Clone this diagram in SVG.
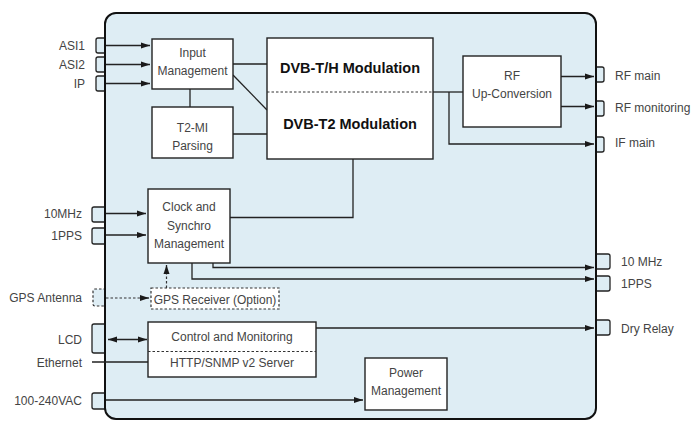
<svg xmlns="http://www.w3.org/2000/svg" width="695" height="421" viewBox="0 0 695 421">
<defs>
<marker id="ah" markerUnits="userSpaceOnUse" markerWidth="10" markerHeight="8" refX="9" refY="3.5" orient="auto-start-reverse"><path d="M0,0.5 L9,3.5 L0,6.5 z" fill="#1a1a1a"/></marker>
</defs>
<style>
text{font-family:"Liberation Sans",Arial,sans-serif;font-size:12px;fill:#444}
.b{font-weight:bold;font-size:14.5px;fill:#111}
.m{text-anchor:middle}
.e{text-anchor:end}
.box{fill:#fff;stroke:#222;stroke-width:1.4}
.dbox{fill:#fff;stroke:#333;stroke-width:1.2;stroke-dasharray:2.5 2}
.port{fill:#deedf4;stroke:#222;stroke-width:1.3}
.dport{fill:#deedf4;stroke:#333;stroke-width:1.2;stroke-dasharray:2.5 2}
.ln{fill:none;stroke:#222;stroke-width:1.3}
.ar{fill:none;stroke:#222;stroke-width:1.3;marker-end:url(#ah)}
.dash{fill:none;stroke:#333;stroke-width:1.2;stroke-dasharray:2.5 2}
.div{stroke:#333;stroke-width:1;stroke-dasharray:2.5 2}
</style>
<rect width="695" height="421" fill="#fff"/>
<!-- ports -->
<g id="ports">
<path class="port" d="M106,38 H98 q-2,0 -2,2 V51 q0,2 2,2 H106"/>
<path class="port" d="M106,57 H98 q-2,0 -2,2 V70 q0,2 2,2 H106"/>
<path class="port" d="M106,76 H98 q-2,0 -2,2 V89 q0,2 2,2 H106"/>
<path class="port" d="M106,207 H94 q-2,0 -2,2 V220 q0,2 2,2 H106"/>
<path class="port" d="M106,228 H94 q-2,0 -2,2 V242 q0,2 2,2 H106"/>
<path class="dport" d="M106,289 H95 q-2,0 -2,2 V304 q0,2 2,2 H106"/>
<path class="port" d="M106,324 H94 q-2,0 -2,2 V351 q0,2 2,2 H106"/>
<path class="port" d="M106,393 H94 q-2,0 -2,2 V407 q0,2 2,2 H106"/>
<path class="port" d="M595,67 H602 q2,0 2,2 V80 q0,2 -2,2 H595"/>
<path class="port" d="M595,101 H602 q2,0 2,2 V114 q0,2 -2,2 H595"/>
<path class="port" d="M595,137 H602 q2,0 2,2 V150 q0,2 -2,2 H595"/>
<path class="port" d="M595,254 H608 q2,0 2,2 V267 q0,2 -2,2 H595"/>
<path class="port" d="M595,276 H608 q2,0 2,2 V289 q0,2 -2,2 H595"/>
<path class="port" d="M595,320 H608 q2,0 2,2 V333 q0,2 -2,2 H595"/>
</g>
<rect id="chassis" x="105" y="13" width="491" height="406" rx="11" fill="#deedf4" stroke="#111" stroke-width="2"/>
<!-- labels -->
<g id="labels">
<text class="e" x="85" y="49.5">ASI1</text>
<text class="e" x="85" y="68.5">ASI2</text>
<text class="e" x="85" y="87.5">IP</text>
<text class="e" x="82" y="217.5">10MHz</text>
<text class="e" x="82" y="239.5">1PPS</text>
<text class="e" x="82" y="302">GPS Antenna</text>
<text class="e" x="82" y="343.5">LCD</text>
<text class="e" x="82" y="366.5">Ethernet</text>
<text class="e" x="82" y="404.5">100-240VAC</text>
<text x="615" y="79.5">RF main</text>
<text x="615" y="112">RF monitoring</text>
<text x="615" y="146.5">IF main</text>
<text x="621" y="265.5">10 MHz</text>
<text x="621" y="287.5">1PPS</text>
<text x="621" y="332.5">Dry Relay</text>
</g>
<!-- connectors -->
<g id="connectors">
<line class="ar" x1="106" y1="45.5" x2="150" y2="45.5"/>
<line class="ar" x1="106" y1="64.5" x2="150" y2="64.5"/>
<line class="ar" x1="106" y1="83.5" x2="150" y2="83.5"/>
<line class="ln" x1="190" y1="89" x2="190" y2="107"/>
<line class="ln" x1="233" y1="64" x2="267" y2="64"/>
<line class="ln" x1="233" y1="75" x2="267" y2="110"/>
<line class="ln" x1="233" y1="134" x2="267" y2="134"/>
<line class="ln" x1="433" y1="92" x2="463" y2="92"/>
<polyline class="ar" points="449,92 449,144 594,144"/>
<line class="ar" x1="561" y1="76.5" x2="594" y2="76.5"/>
<line class="ar" x1="561" y1="106.5" x2="594" y2="106.5"/>
<polyline class="ln" points="353,159 353,217.5 230,217.5"/>
<line class="ar" x1="106" y1="213.5" x2="146" y2="213.5"/>
<line class="ar" x1="106" y1="235" x2="146" y2="235"/>
<polyline class="ar" points="213,263 213,267.5 594,267.5"/>
<polyline class="ar" points="192,263 192,279 594,279"/>
<line class="dash" x1="106" y1="298" x2="142" y2="298"/>
<line class="ar" x1="142" y1="298" x2="149" y2="298" stroke-dasharray="none"/>
<line class="dash" x1="166.5" y1="288" x2="166.5" y2="273"/>
<line class="ar" x1="166.5" y1="273" x2="166.5" y2="265"/>
<line class="ar" x1="108" y1="339.5" x2="147" y2="339.5" marker-start="url(#ah)"/>
<line class="ln" x1="92" y1="362" x2="148" y2="362"/>
<line class="ar" x1="316" y1="328" x2="594" y2="328"/>
<line class="ar" x1="106" y1="400" x2="363" y2="400"/>
</g>
<!-- nodes -->
<g id="input-management">
<rect class="box" x="152" y="39" width="81" height="50"/>
<text class="m" x="192.5" y="57">Input</text>
<text class="m" x="192.5" y="75">Management</text>
</g>
<g id="t2mi-parsing">
<rect class="box" x="152" y="107" width="81" height="51"/>
<text class="m" x="192.5" y="131.5">T2-MI</text>
<text class="m" x="192.5" y="149.5">Parsing</text>
</g>
<g id="dvb-modulation">
<rect class="box" x="267" y="38" width="166" height="121"/>
<line class="div" x1="267" y1="92" x2="433" y2="92"/>
<text class="m b" x="350" y="73">DVB-T/H Modulation</text>
<text class="m b" x="350" y="128.5">DVB-T2 Modulation</text>
</g>
<g id="rf-upconversion">
<rect class="box" x="463" y="56" width="98" height="71"/>
<text class="m" x="512" y="79.5">RF</text>
<text class="m" x="512" y="97.5">Up-Conversion</text>
</g>
<g id="clock-synchro">
<rect class="box" x="148" y="189" width="82" height="74"/>
<text class="m" x="189" y="211">Clock and</text>
<text class="m" x="189" y="229.5">Synchro</text>
<text class="m" x="189" y="247.5">Management</text>
</g>
<g id="gps-receiver">
<rect class="dbox" x="151" y="288" width="128" height="21"/>
<text class="m" x="215" y="303.5">GPS Receiver (Option)</text>
</g>
<g id="control-monitoring">
<rect class="box" x="148" y="322" width="168" height="55"/>
<line class="div" x1="148" y1="351.5" x2="316" y2="351.5"/>
<text class="m" x="232" y="340.5">Control and Monitoring</text>
<text class="m" x="232" y="367">HTTP/SNMP v2 Server</text>
</g>
<g id="power-management">
<rect class="box" x="365" y="358" width="82" height="52"/>
<text class="m" x="406" y="377">Power</text>
<text class="m" x="406" y="394.5">Management</text>
</g>
</svg>
